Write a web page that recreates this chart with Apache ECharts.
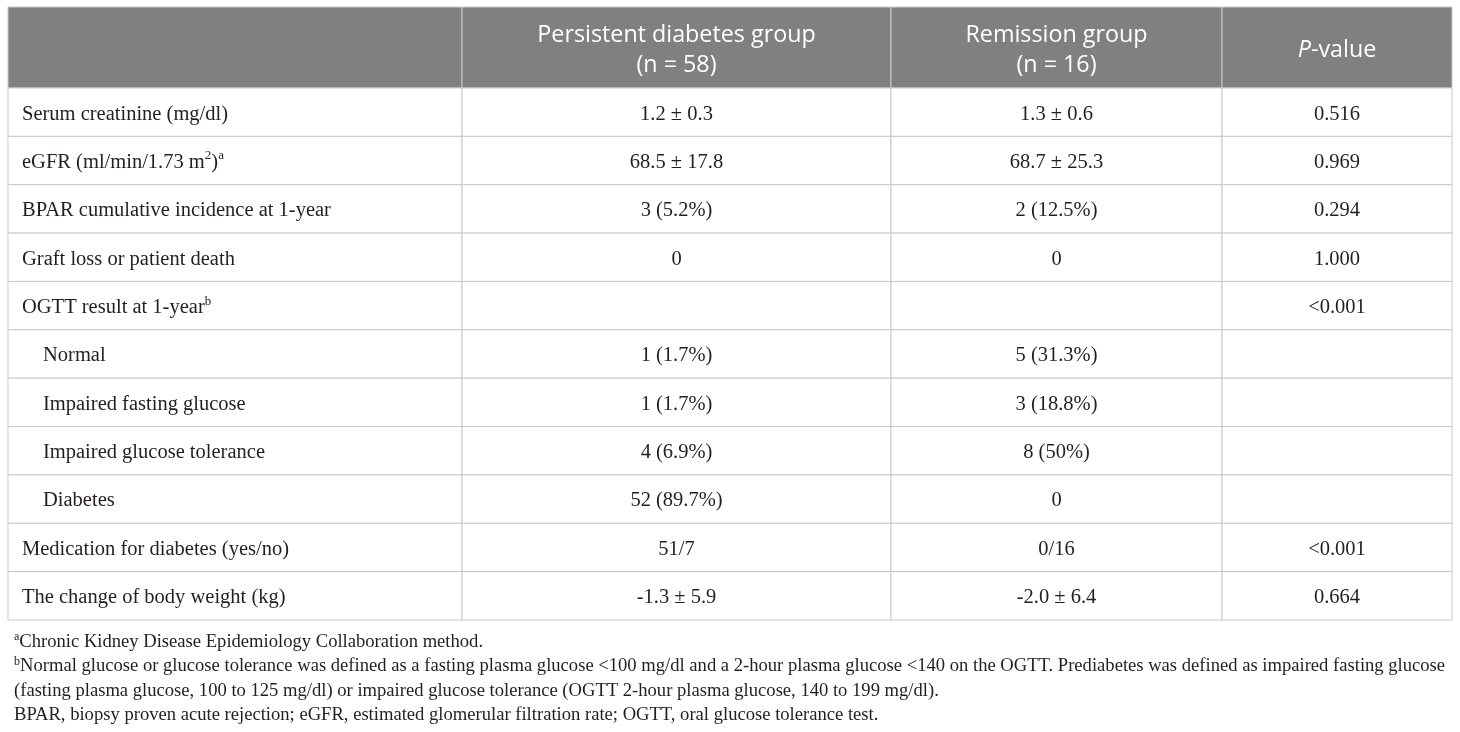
<!DOCTYPE html>
<html>
<head>
<meta charset="utf-8">
<script src="https://cdn.jsdelivr.net/npm/echarts@6/dist/echarts.min.js"></script>
<style>
  html, body { margin: 0; padding: 0; background: #fff; }
  #main { width: 1460px; height: 732px; }
</style>
</head>
<body>
<div id="main"></div>
<script>
// table content
var headers = ['', 'Persistent diabetes group\n(n = 58)', 'Remission group\n(n = 16)', '{it|P}-value'];
var rowLabels = [
  'Serum creatinine (mg/dl)',
  'eGFR (ml/min/1.73 m{sup|2}){sup|a}',
  'BPAR cumulative incidence at 1-year',
  'Graft loss or patient death',
  'OGTT result at 1-year{sup|b}',
  'Normal',
  'Impaired fasting glucose',
  'Impaired glucose tolerance',
  'Diabetes',
  'Medication for diabetes (yes/no)',
  'The change of body weight (kg)'
];
var subRow = [0, 0, 0, 0, 0, 1, 1, 1, 1, 0, 0];
var persistent = ['1.2 ± 0.3', '68.5 ± 17.8', '3 (5.2%)', '0', '', '1 (1.7%)', '1 (1.7%)', '4 (6.9%)', '52 (89.7%)', '51/7', '-1.3 ± 5.9'];
var remission = ['1.3 ± 0.6', '68.7 ± 25.3', '2 (12.5%)', '0', '', '5 (31.3%)', '3 (18.8%)', '8 (50%)', '0', '0/16', '-2.0 ± 6.4'];
var pValues = ['0.516', '0.969', '0.294', '1.000', '<0.001', '', '', '', '', '<0.001', '0.664'];
var footnotes = [
  '{sup|a}Chronic Kidney Disease Epidemiology Collaboration method.',
  '{sup|b}Normal glucose or glucose tolerance was defined as a fasting plasma glucose <100 mg/dl and a 2-hour plasma glucose <140 on the OGTT. Prediabetes was defined as impaired fasting glucose',
  '(fasting plasma glucose, 100 to 125 mg/dl) or impaired glucose tolerance (OGTT 2-hour plasma glucose, 140 to 199 mg/dl).',
  'BPAR, biopsy proven acute rejection; eGFR, estimated glomerular filtration rate; OGTT, oral glucose tolerance test.'
];

// layout (table units = px inside the grid)
var colEdges = [0, 454, 883, 1214, 1444];
var headH = 81;
var tableH = 613;
var rowH = (tableH - headH) / rowLabels.length;

var serif = '"Liberation Serif", "DejaVu Serif", serif';
var sans = '"Open Sans", "Noto Sans", sans-serif';
var lineColor = '#c9c9c9';
var ink = '#231f20';

var cells = [];
headers.forEach(function (h, c) { cells.push([c, -1, h]); });
rowLabels.forEach(function (lab, r) {
  cells.push([0, r, lab]);
  cells.push([1, r, persistent[r]]);
  cells.push([2, r, remission[r]]);
  cells.push([3, r, pValues[r]]);
});

function rowTop(r) { return r < 0 ? 0 : headH + r * rowH; }
function rowBottom(r) { return r < 0 ? headH : headH + (r + 1) * rowH; }

var chartDom = document.getElementById('main');
var myChart = echarts.init(chartDom);

function renderCell(params, api) {
  var c = api.value(0), r = api.value(1);
  var txt = cells[params.dataIndex][2];
  var p0 = api.coord([colEdges[c], rowTop(r)]);
  var p1 = api.coord([colEdges[c + 1], rowBottom(r)]);
  var x = p0[0], y = p0[1], w = p1[0] - p0[0], h = p1[1] - p0[1];
  var isHead = r < 0;
  var children = [{
    type: 'rect',
    shape: { x: x, y: y, width: w, height: h },
    style: { fill: isHead ? '#808080' : '#fff', stroke: lineColor, lineWidth: 1 }
  }];
  if (txt) {
    var left = c === 0;
    children.push({
      type: 'text',
      x: left ? x + 14 + (subRow[r] ? 21 : 0) : x + w / 2,
      y: y + h / 2 + (isHead ? 2.5 : 2),
      style: {
        text: txt,
        align: left ? 'left' : 'center',
        verticalAlign: 'middle',
        fill: isHead ? '#fff' : ink,
        fontFamily: isHead ? sans : serif,
        fontSize: isHead ? 23.3 : 20.5,
        lineHeight: isHead ? 30 : 26,
        rich: {
          it: { fontStyle: 'italic', fontFamily: sans, fontSize: 23.3, fill: '#fff' },
          sup: { fontSize: 13, fontFamily: serif, fill: ink, verticalAlign: 'top', lineHeight: 26, padding: [0, 0, 10, 0] }
        }
      }
    });
  }
  return { type: 'group', children: children };
}

var option = {
  animation: false,
  grid: { left: 8, top: 7, width: 1444, height: tableH },
  xAxis: { type: 'value', min: 0, max: 1444, show: false },
  yAxis: { type: 'value', min: 0, max: tableH, inverse: true, show: false },
  graphic: footnotes.map(function (t, i) {
    return {
      type: 'text',
      left: 14,
      top: 630 + i * 24.4,
      style: {
        text: t,
        fill: ink,
        fontFamily: serif,
        fontSize: 18.6,
        lineHeight: 24,
        rich: {
          sup: { fontSize: 12, fontFamily: serif, fill: ink, padding: [0, 0, 10, 0] }
        }
      }
    };
  }),
  series: [{
    type: 'custom',
    coordinateSystem: 'cartesian2d',
    renderItem: renderCell,
    data: cells.map(function (d) { return [d[0], d[1]]; }),
    silent: true
  }]
};

myChart.setOption(option);
</script>
</body>
</html>
